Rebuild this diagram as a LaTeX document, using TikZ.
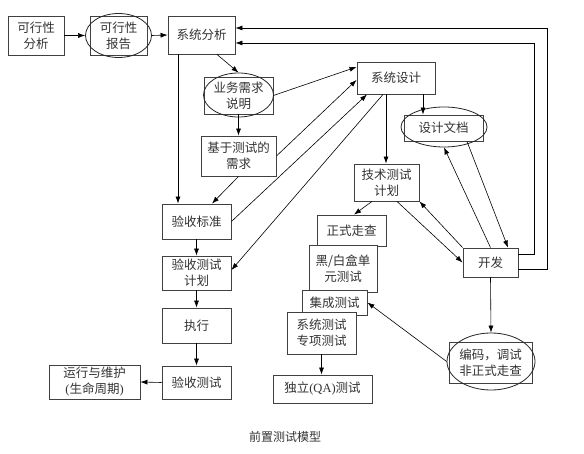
\documentclass[tikz,border=0pt]{standalone}
\usepackage{fontspec}
\setmainfont{Noto Sans CJK SC}
\newfontfamily\latinfont{Liberation Serif}
\usetikzlibrary{arrows.meta,shapes.geometric,calc}
\begin{document}
\begin{tikzpicture}[x=1pt,y=-1pt,
  box/.style={draw=black!75, line width=0.9pt, fill=white, inner sep=0pt, align=center,
    text=black!80, font=\fontsize{12.5}{16}\selectfont},
  ell/.style={draw=black!85, line width=0.8pt, ellipse, inner sep=0pt},
  arr/.style={-{Latex[length=7pt,width=5pt]}, line width=0.6pt},
  ln/.style={line width=0.6pt}]
\useasboundingbox (0,0) rectangle (584,454);
\fill[white] (0,0) rectangle (584,454);

% left column
\node[box, minimum width=56pt, minimum height=39pt] (kxfx) at (36,35.5) {可行性\\分析};
\node[box, minimum width=57pt, minimum height=39pt] (kxbg) at (118.5,35.5) {可行性\\报告};
\node[ell, minimum width=66pt, minimum height=44pt] (kxbgE) at (118.5,35.5) {};
\node[box, minimum width=67pt, minimum height=38pt] (xtfx) at (201.5,35) {系统分析};

\node[box, minimum width=69pt, minimum height=37pt] (ywxq) at (238.5,95.5) {业务需求\\说明};
\node[ell, minimum width=70pt, minimum height=44pt] (ywxqE) at (238.5,95) {};
\node[box, minimum width=75pt, minimum height=40pt] (jyxq) at (238.5,156) {基于测试的\\需求};

\node[box, minimum width=69pt, minimum height=35pt] (yssbz) at (196.5,221.5) {验收标准};
\node[box, minimum width=69pt, minimum height=34pt] (ysjh) at (196.5,273) {验收测试\\计划};
\node[box, minimum width=69pt, minimum height=35pt] (zx) at (196.5,325.5) {执行};
\node[box, minimum width=69pt, minimum height=33pt] (yscs) at (196.5,382.5) {验收测试};
\node[box, minimum width=91pt, minimum height=34pt] (yxwh) at (94.5,382) {运行与维护\\{\latinfont(}生命周期{\latinfont)}};

% right part
\node[box, minimum width=78pt, minimum height=32pt] (xtsj) at (396,78) {系统设计};
\node[box, minimum width=79pt, minimum height=26pt] (sjwd) at (443.5,128) {设计文档};
\node[ell, minimum width=86pt, minimum height=40pt] (sjwdE) at (444,127) {};
\node[box, minimum width=65pt, minimum height=37pt] (jsjh) at (386.5,182.5) {技术测试\\计划};

\node[box, minimum width=69pt, minimum height=31pt] (zszc) at (351.5,230.5) {正式走查};
\node[box, minimum width=68pt, minimum height=47pt] (hbh) at (343,268.5) {黑/白盒单\\元测试};
\node[box, minimum width=65pt, minimum height=25pt] (jc) at (334.5,302.5) {集成测试};
\node[box, minimum width=69pt, minimum height=42pt] (xtcs) at (321.5,333) {系统测试\\专项测试};
\node[box, minimum width=99pt, minimum height=28pt] (dl) at (322.5,389) {独立{\latinfont(QA)}测试};

\node[box, minimum width=55pt, minimum height=29pt] (kf) at (490.5,262.5) {开发};
\node[box, minimum width=83pt, minimum height=41pt] (bm) at (490.5,362.5) {编码，调试\\非正式走查};
\node[ell, minimum width=88pt, minimum height=57pt] (bmE) at (491,361.5) {};

\node[text=black!80, font=\fontsize{12}{14}\selectfont] (cap) at (285,437) {前置测试模型};

% loops back to 系统分析
\coordinate (c1) at (547,28);
\coordinate (c2) at (534,43);
\draw[arr] ([yshift=-6.5pt]kf.east) -| (c1) -- ([yshift=7pt]xtfx.east);
\draw[arr] ([yshift=8.5pt]kf.east) -| (c2) -- ([yshift=-8pt]xtfx.east);

% connectors
\draw[arr] (kxfx.east) -- (kxbgE.west);
\draw[arr] (kxbgE.east) -- (xtfx.west);
\draw[arr] ([xshift=15.5pt]xtfx.south) -- (ywxqE.north);
\draw[arr] ([xshift=-23.5pt]xtfx.south) -- ([xshift=-18.5pt]yssbz.north);
\draw[arr] (ywxq.south) -- (jyxq.north);
\draw[arr] (jyxq.south) -- ([xshift=15.5pt]yssbz.north);
\draw[arr] (yssbz.south) -- (ysjh.north);
\draw[arr] (ysjh.south) -- (zx.north);
\draw[arr] (zx.south) -- (yscs.north);
\draw[arr] (yscs.west) -- (yxwh.east);

\draw[arr] (ywxq.east) -- ([yshift=11pt]xtsj.west);
\draw[arr] (jyxq.east) -- ([yshift=-2pt]xtsj.west);
\draw[arr] (yssbz.east) -- ([xshift=-29pt]xtsj.south);
\draw[arr] ([xshift=-13pt]xtsj.south) -- ([yshift=3pt]ysjh.east);

\draw[arr] ([xshift=-10pt]xtsj.south) -- ([xshift=-10pt]xtsj.south |- jsjh.north);
\draw[arr] ([xshift=27pt]xtsj.south) -- ([xshift=-20.5pt]sjwd.north);
\draw[arr] ([xshift=-14.5pt]jsjh.south) -- ([xshift=2.5pt]zszc.north);
\draw[arr] (xtcs.south) -- (xtcs.south |- dl.north);

\draw[arr] ([xshift=10.5pt]jsjh.south) -- (kf.west);
\draw[arr] (kf.north west) -- (jsjh.south east);
\draw[arr] (kf.north) -- (sjwdE.south);
\draw[arr] ([xshift=23.5pt]sjwd.south) -- ([xshift=17.5pt]kf.north);
\draw[arr] (kf.south) -- (bmE.north);
\draw[arr] (bmE.west) -- (jc.east);
\end{tikzpicture}
\end{document}
